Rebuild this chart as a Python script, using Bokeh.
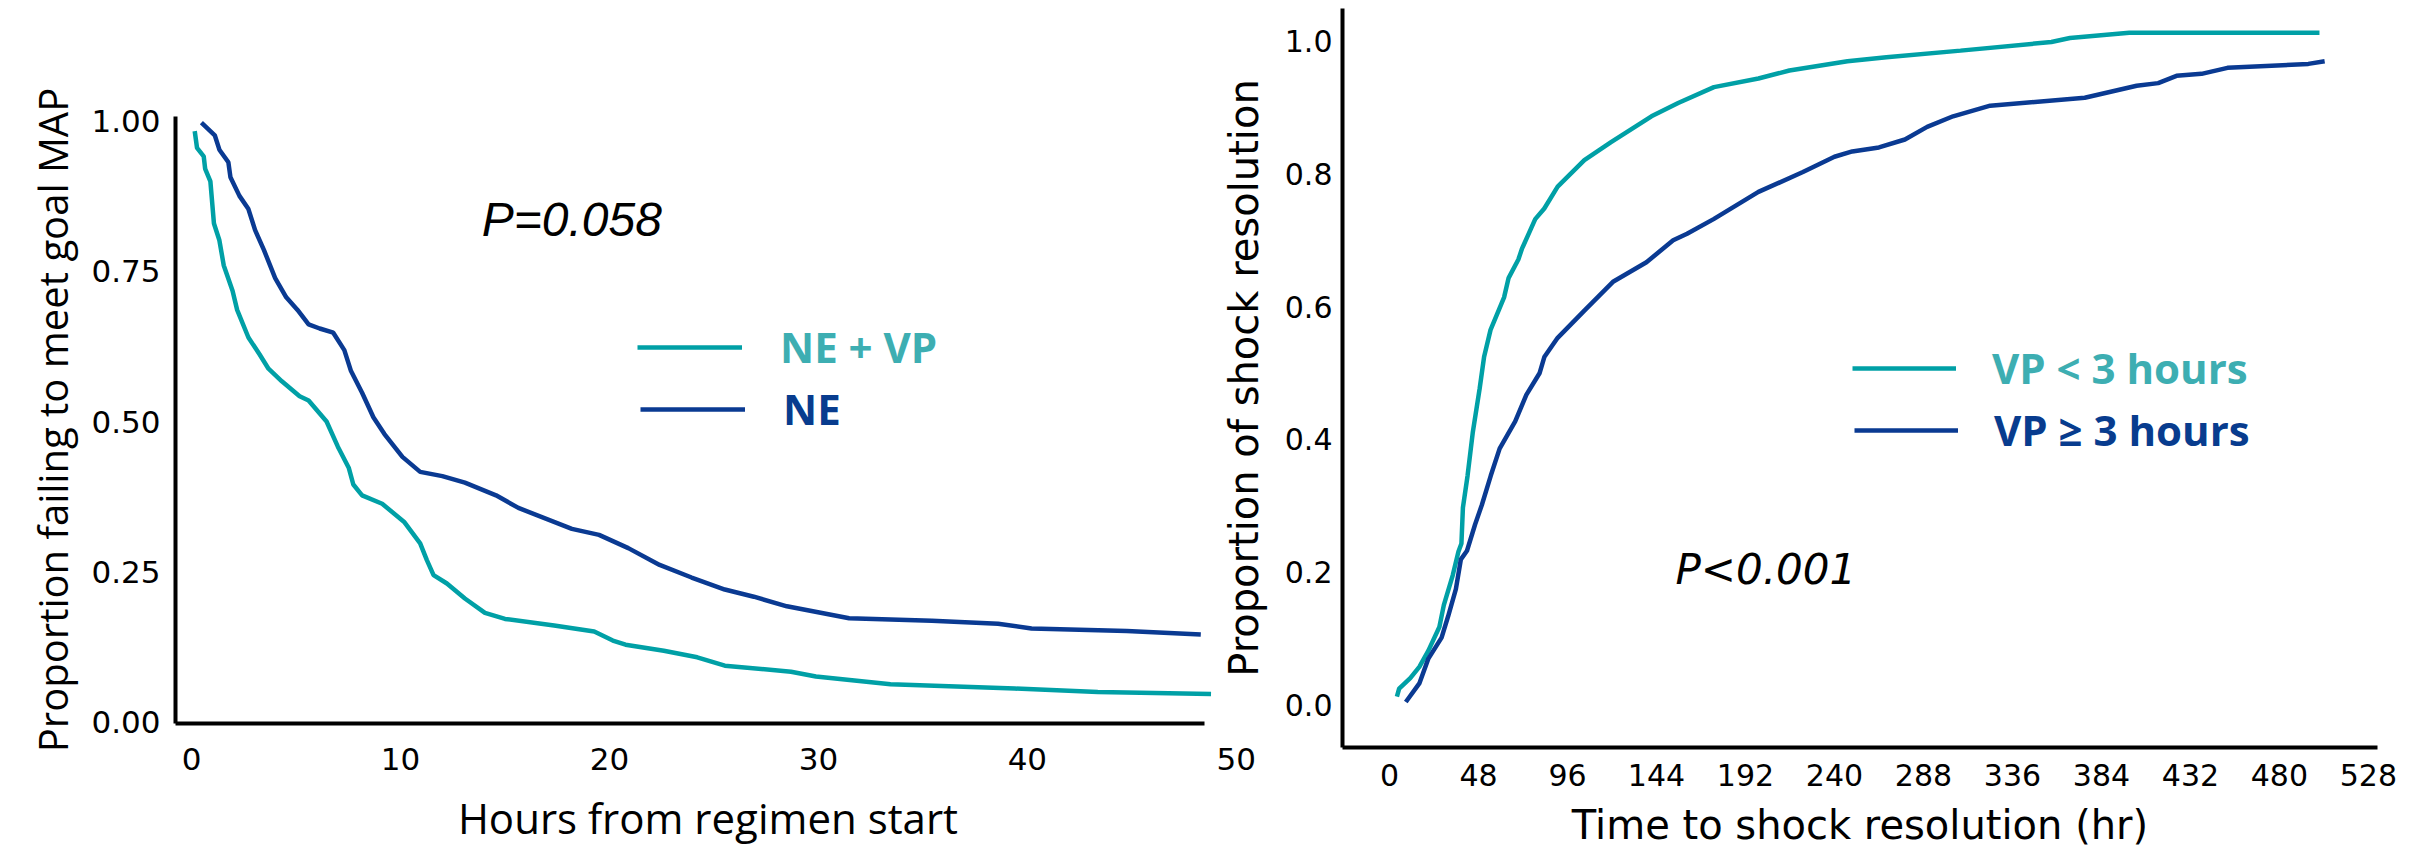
from bokeh.plotting import figure
from bokeh.layouts import row
from bokeh.models import (Range1d, FixedTicker, LinearAxis, Legend, LegendItem,
                          Label, NumeralTickFormatter)
from bokeh.embed import file_html
from bokeh.resources import INLINE

# ---------------- data ----------------
# Left panel: proportion failing to meet goal MAP vs hours from regimen start
left_nevp_hours = [0.15, 0.26, 0.58, 0.65, 0.90, 1.07, 1.33, 1.54, 1.96, 2.18, 2.72, 3.25, 3.68,
                   4.32, 5.17, 5.6, 6.46, 7.0, 7.52, 7.74, 8.16, 9.12, 10.19, 10.94, 11.26, 11.58,
                   12.22, 13.08, 14.04, 15.0, 17.35, 19.27, 20.16, 20.77, 22.6, 24.2, 25.52,
                   28.69, 29.88, 33.45, 39.4, 43.37, 48.79]
left_nevp_prop = [0.984, 0.956, 0.942, 0.921, 0.900, 0.830, 0.802, 0.760, 0.718, 0.686, 0.640,
                  0.612, 0.588, 0.567, 0.542, 0.535, 0.500, 0.458, 0.423, 0.395, 0.377, 0.363,
                  0.332, 0.297, 0.269, 0.244, 0.230, 0.205, 0.181, 0.171, 0.160, 0.150, 0.135,
                  0.128, 0.118, 0.107, 0.093, 0.083, 0.075, 0.062, 0.055, 0.049, 0.046]
left_ne_hours = [0.47, 1.11, 1.33, 1.76, 1.86, 2.29, 2.72, 3.04, 3.46, 4.0, 4.53, 5.07, 5.6, 6.13,
                 6.78, 7.31, 7.63, 8.16, 8.70, 9.23, 10.09, 10.94, 12.0, 13.08, 14.57, 15.64,
                 18.2, 19.5, 20.9, 22.4, 23.93, 25.52, 26.91, 28.49, 31.47, 35.43, 38.6, 40.2,
                 44.76, 48.3]
left_ne_prop = [0.998, 0.977, 0.953, 0.932, 0.907, 0.876, 0.854, 0.819, 0.786, 0.739, 0.707,
                0.686, 0.662, 0.655, 0.648, 0.619, 0.584, 0.548, 0.507, 0.479, 0.441, 0.416,
                0.409, 0.398, 0.377, 0.356, 0.321, 0.311, 0.289, 0.261, 0.240, 0.220, 0.208,
                0.192, 0.172, 0.168, 0.163, 0.155, 0.151, 0.145]
left_xticks = [0, 10, 20, 30, 40, 50]
left_yticks = [0.0, 0.25, 0.5, 0.75, 1.0]
left_series = ["NE + VP", "NE"]
left_pvalue = "P=0.058"

# Right panel: proportion of shock resolution vs time (hr)
right_lt3_hours = [4.0, 5.2, 11.2, 16.1, 20.9, 26.9, 29.3, 34.1, 37.2, 38.8, 39.6, 42.1, 44.9,
                   48.6, 51.0, 54.5, 61.8, 64.2, 69.5, 71.4, 78.6, 83.5, 90.7, 105.1, 119.5,
                   141.3, 155.7, 175, 199, 215.7, 247, 268, 308, 357, 367, 399, 501.6]
right_lt3_prop = [0.012, 0.024, 0.040, 0.057, 0.081, 0.117, 0.150, 0.195, 0.231, 0.243, 0.297,
                  0.345, 0.410, 0.476, 0.524, 0.565, 0.614, 0.643, 0.671, 0.687, 0.732, 0.748,
                  0.781, 0.821, 0.848, 0.887, 0.907, 0.931, 0.944, 0.956, 0.970, 0.976, 0.986,
                  0.999, 1.005, 1.013, 1.013]
right_ge3_hours = [8.8, 16.1, 20.9, 28.1, 31.7, 35.8, 38.5, 41.8, 46.2, 49.8, 54.6, 59.4, 67.8,
                   73.8, 81.0, 83.5, 90.7, 105.1, 120.8, 138.6, 153, 160.5, 174.8, 199, 223, 240,
                   249.6, 264, 278, 290, 304, 324, 375, 403, 414.6, 424.5, 438, 452, 495.6, 504.4]
right_ge3_prop = [0.004, 0.032, 0.069, 0.101, 0.134, 0.174, 0.219, 0.232, 0.272, 0.301, 0.345,
                  0.386, 0.427, 0.467, 0.500, 0.524, 0.553, 0.594, 0.638, 0.667, 0.700, 0.710,
                  0.732, 0.773, 0.803, 0.826, 0.834, 0.840, 0.852, 0.871, 0.887, 0.903, 0.915,
                  0.933, 0.937, 0.948, 0.951, 0.960, 0.966, 0.970]
right_xticks = [0, 48, 96, 144, 192, 240, 288, 336, 384, 432, 480, 528]
right_yticks = [0.0, 0.2, 0.4, 0.6, 0.8, 1.0]
right_series = ["VP < 3 hours", "VP \u2265 3 hours"]
right_pvalue = "P<0.001"

# ---------------- styles ----------------
TEAL = "#00A0A6"
NAVY = "#0A3A92"
TEAL_TXT = "#3DAEB2"
NAVY_TXT = "#083C8E"
LW = 4.5
TITLE_FONT = "Open Sans"
TICK_FONT = "DejaVu Sans"


def base_fig(**kw):
    p = figure(output_backend="svg", toolbar_location=None, **kw)
    p.outline_line_color = None
    p.xgrid.visible = False
    p.ygrid.visible = False
    p.frame_align = False
    return p


def style_axis(ax, font_size, standoff, title_font=TITLE_FONT):
    ax.axis_line_width = 4
    ax.axis_line_color = "black"
    ax.major_tick_out = 0
    ax.major_tick_in = 0
    ax.minor_tick_out = 0
    ax.minor_tick_in = 0
    ax.major_label_text_font = TICK_FONT
    ax.major_label_text_font_size = font_size
    ax.major_label_text_color = "black"
    ax.major_label_standoff = standoff
    ax.axis_label_text_font = title_font
    ax.axis_label_text_font_style = "normal"
    ax.axis_label_text_color = "black"


def one_legend(p, label, renderer, color, loc, glyph_w, standoff, fsize):
    leg = Legend(items=[LegendItem(label=label, renderers=[renderer])], location=loc,
                 glyph_width=glyph_w, glyph_height=48, label_height=48,
                 label_standoff=standoff, padding=0, margin=0, spacing=0,
                 border_line_color=None, background_fill_alpha=0,
                 label_text_font=TITLE_FONT, label_text_font_size=fsize,
                 label_text_font_style="bold", label_text_color=color)
    p.add_layout(leg)


# ---------------- left panel ----------------
left = base_fig(width=1270, height=850,
                x_range=Range1d(-0.77, 50.2), y_range=Range1d(-0.0033, 1.0083),
                min_border_left=175, min_border_right=30, min_border_top=116,
                min_border_bottom=127)

r_nevp = left.line(left_nevp_hours, left_nevp_prop, line_color=TEAL, line_width=LW)
r_ne = left.line(left_ne_hours, left_ne_prop, line_color=NAVY, line_width=LW)

# x axis: line only (ends where the data ends)
xa = left.xaxis[0]
style_axis(xa, "0px", 0)
xa.ticker = FixedTicker(ticks=[])
xa.bounds = (-0.77, 48.47)
# second x axis carrying the tick labels and title
xa2 = LinearAxis(ticker=FixedTicker(ticks=left_xticks))
style_axis(xa2, "31px", 24)
xa2.axis_line_color = None
xa2.axis_label = "Hours from regimen start"
xa2.axis_label_text_font_size = "42px"
xa2.axis_label_standoff = 16
left.add_layout(xa2, "below")

ya = left.yaxis[0]
style_axis(ya, "31px", 15)
ya.ticker = FixedTicker(ticks=left_yticks)
ya.formatter = NumeralTickFormatter(format="0.00")
ya.axis_label = "Proportion failing to meet goal MAP"
ya.axis_label_text_font_size = "40px"
ya.axis_label_standoff = 8

left.add_layout(Label(x=18.2, y=0.837, text=left_pvalue, text_font="Liberation Sans",
                      text_font_style="italic", text_font_size="48px",
                      text_align="center", text_baseline="middle", text_color="black"))

one_legend(left, left_series[0], r_nevp, TEAL_TXT, (462, 348), 105, 38, "42px")
one_legend(left, left_series[1], r_ne, NAVY_TXT, (465, 286), 105, 38, "42px")

# ---------------- right panel ----------------
right = base_fig(width=1212, height=850,
                 x_range=Range1d(-25.35, 532.9), y_range=Range1d(-0.0646, 1.0495),
                 min_border_left=130, min_border_right=47, min_border_top=8,
                 min_border_bottom=100)
right.background_fill_alpha = 0
right.border_fill_alpha = 0
right.margin = (0, 0, 0, -58)

r_lt3 = right.line(right_lt3_hours, right_lt3_prop, line_color=TEAL, line_width=LW)
r_ge3 = right.line(right_ge3_hours, right_ge3_prop, line_color=NAVY, line_width=LW)

rx = right.xaxis[0]
style_axis(rx, "30px", 16, title_font="DejaVu Sans")
rx.ticker = FixedTicker(ticks=right_xticks)
rx.axis_label = "Time to shock resolution (hr)"
rx.axis_label_text_font_size = "40px"
rx.axis_label_standoff = 13

ry = right.yaxis[0]
style_axis(ry, "30px", 10, title_font="DejaVu Sans")
ry.ticker = FixedTicker(ticks=right_yticks)
ry.formatter = NumeralTickFormatter(format="0.0")
ry.axis_label = "Proportion of shock resolution"
ry.axis_label_text_font_size = "40px"
ry.axis_label_standoff = 15

right.add_layout(Label(x=203, y=0.203, text=right_pvalue, text_font="DejaVu Sans",
                       text_font_style="italic", text_font_size="42px",
                       text_align="center", text_baseline="middle", text_color="black"))

one_legend(right, right_series[0], r_lt3, TEAL_TXT, (510, 351), 104, 36, "42px")
one_legend(right, right_series[1], r_ge3, NAVY_TXT, (512, 289), 104, 36, "42px")

layout = row(left, right)
open("out.html", "w").write(file_html(layout, INLINE))
